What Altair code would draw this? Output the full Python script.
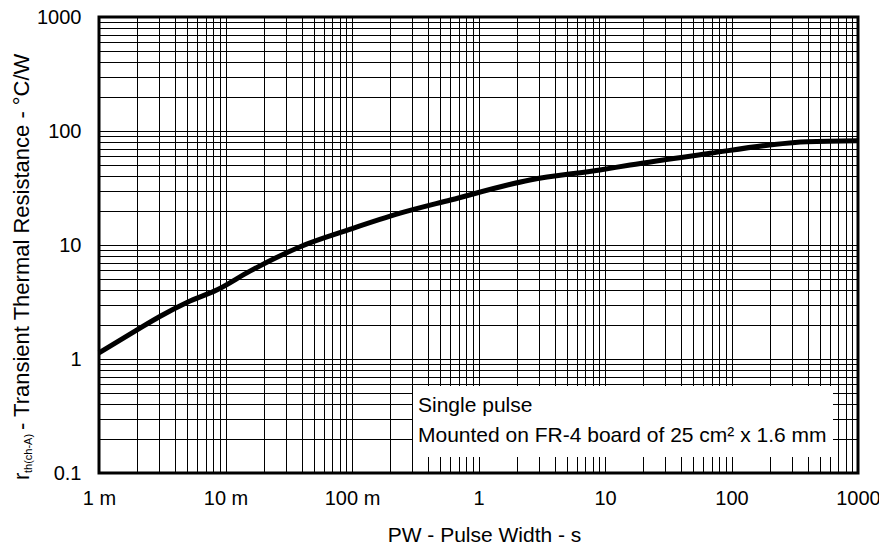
import altair as alt
import pandas as pd

# Curve (PW in s, r_th in °C/W)
pw = [0.001, 0.002, 0.003, 0.005, 0.0086, 0.0156, 0.039, 0.096, 0.24, 0.6, 2.55, 9.1, 15.8, 67.7, 200, 396, 1000]
rth = [1.13, 1.80, 2.35, 3.15, 4.05, 5.9, 9.66, 13.7, 19.0, 24.8, 37.2, 45.5, 50.3, 63.7, 75.4, 80.5, 82.2]

x_label_values = [0.001, 0.01, 0.1, 1, 10, 100, 1000]
x_label_text = ["1 m", "10 m", "100 m", "1", "10", "100", "1000"]
y_label_values = [0.1, 1, 10, 100, 1000]
y_label_text = ["0.1", "1", "10", "100", "1000"]
grid_multipliers = [1, 2, 3, 4, 5, 6, 7, 8, 9]

annot_lines = ["Single pulse", "Mounted on FR-4 board of 25 cm\u00b2 x 1.6 mm"]
y_title_parts = ["r", "th(ch-A)", " - Transient Thermal Resistance - \u00b0C/W"]
x_title = "PW - Pulse Width - s"

FONT = "Liberation Sans"


def grid_values(decades):
    out = []
    for d in decades[:-1]:
        for m in grid_multipliers:
            out.append(round(d * m, 10))
    out.append(decades[-1])
    return out


def label_expr(vals, texts):
    expr = "''"
    for v, t in reversed(list(zip(vals, texts))):
        expr = f"abs(datum.value - {v}) < {v * 1e-6} ? '{t}' : ({expr})"
    return expr


df = pd.DataFrame({"pw": pw, "rth": rth})
one = pd.DataFrame({"k": [0]})

xscale = alt.Scale(type="log", domain=[0.001, 1000], nice=False)
yscale = alt.Scale(type="log", domain=[0.1, 1000], nice=False)

line = alt.Chart(df).mark_line(color="black", strokeWidth=5, interpolate="monotone").encode(
    x=alt.X("pw:Q", scale=xscale, axis=alt.Axis(
        values=grid_values(x_label_values), labelExpr=label_expr(x_label_values, x_label_text),
        grid=True, gridColor="black", gridWidth=1, gridOpacity=1,
        ticks=False, tickSize=0, domain=False, labelOverlap=False, labelFlush=False,
        labelFont=FONT, labelFontSize=20, labelFontWeight="normal", labelColor="black", labelPadding=15,
        title=x_title, titleFont=FONT, titleFontSize=21, titleFontWeight="normal",
        titleColor="black", titlePadding=16, titleX=385)),
    y=alt.Y("rth:Q", scale=yscale, axis=alt.Axis(
        values=grid_values(y_label_values), labelExpr=label_expr(y_label_values, y_label_text),
        grid=True, gridColor="black", gridWidth=1, gridOpacity=1,
        ticks=False, tickSize=0, domain=False, labelOverlap=False, labelFlush=False,
        labelFont=FONT, labelFontSize=20, labelFontWeight="normal", labelColor="black", labelPadding=18,
        title=None)),
)

box = alt.Chart(one).mark_rect(fill="white").encode(
    x=alt.value(314), x2=alt.value(734), y=alt.value(369), y2=alt.value(440))

t1 = alt.Chart(one).mark_text(text=annot_lines[0], font=FONT, fontSize=21, align="left",
                              baseline="alphabetic", color="black").encode(
    x=alt.value(319), y=alt.value(395))
t2 = alt.Chart(one).mark_text(text=annot_lines[1], font=FONT, fontSize=21, align="left",
                              baseline="alphabetic", color="black").encode(
    x=alt.value(319), y=alt.value(425))

yt1 = alt.Chart(one).mark_text(text=y_title_parts[0], font=FONT, fontSize=22, align="left",
                               baseline="alphabetic", angle=270, color="black").encode(
    x=alt.value(-70), y=alt.value(463))
yt2 = alt.Chart(one).mark_text(text=y_title_parts[1], font=FONT, fontSize=11, align="left",
                               baseline="alphabetic", angle=270, color="black").encode(
    x=alt.value(-67), y=alt.value(456))
yt3 = alt.Chart(one).mark_text(text=y_title_parts[2], font=FONT, fontSize=22, align="left",
                               baseline="alphabetic", angle=270, color="black").encode(
    x=alt.value(-70), y=alt.value(413))

chart = alt.layer(line, box, t1, t2, yt1, yt2, yt3).properties(
    width=759, height=456,
    padding={"left": 91, "top": 9, "right": 21, "bottom": 71},
    autosize="none",
    background="white",
).configure_view(stroke="black", strokeWidth=3)

chart.save("out.html", embed_options={"renderer": "svg", "actions": False})
